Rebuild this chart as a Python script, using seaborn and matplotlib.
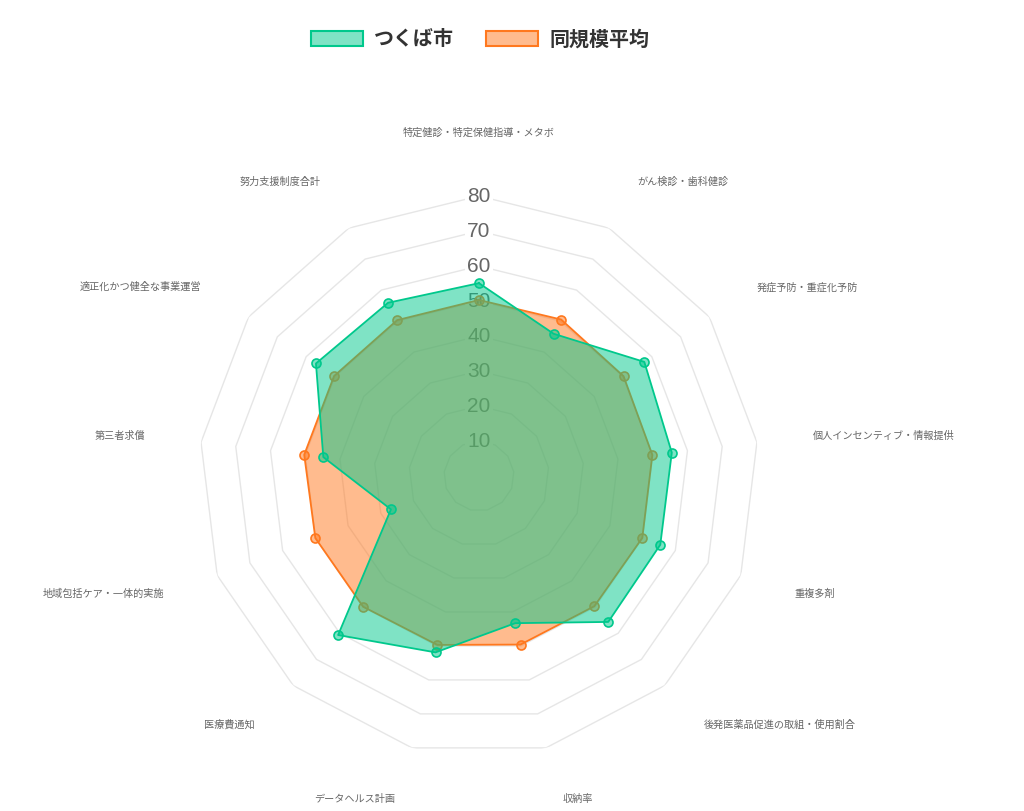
import numpy as np
import seaborn as sns
import matplotlib.pyplot as plt
from matplotlib.colors import to_rgba
from matplotlib.patches import Patch

# axis labels, clockwise from the top
categories = [
    "特定健診・特定保健指導・メタボ",
    "がん検診・歯科健診",
    "発症予防・重症化予防",
    "個人インセンティブ・情報提供",
    "重複多剤",
    "後発医薬品促進の取組・使用割合",
    "収納率",
    "データヘルス計画",
    "医療費通知",
    "地域包括ケア・一体的実施",
    "第三者求償",
    "適正化かつ健全な事業運営",
    "努力支援制度合計",
]
# values
tsukuba = [55.1, 45.9, 57.4, 55.5, 55.4, 55.7, 43.3, 51.9, 60.7, 26.9, 44.8, 56.6, 55.9]
average = [50.3, 50.5, 50.2, 49.9, 49.9, 49.7, 49.6, 49.7, 49.9, 50.0, 50.3, 50.3, 50.3]
ticks = [10, 20, 30, 40, 50, 60, 70, 80]

sns.set_theme(style="white")
plt.rcParams['font.family'] = ['Noto Sans CJK JP', 'DejaVu Sans']

green = "#00c88c"
orange = "#ff781e"

n = len(categories)
angles = np.linspace(0, 2 * np.pi, n, endpoint=False)
theta = np.append(angles, angles[0])

fig = plt.figure(figsize=(10.24, 8.11), dpi=100)
ax = fig.add_axes([0.1943, 0.0678, 0.5469, 0.6905], projection='polar')
ax.set_theta_zero_location('N')
ax.set_theta_direction(-1)
ax.set_ylim(0, 80)
ax.set_axis_off()

# polygon grid and tick labels (under the data)
for v in ticks:
    ax.plot(theta, [v] * (n + 1), color='#e6e6e6', lw=1, zorder=1)
    ax.text(0, v, str(v), ha='center', va='center', fontsize=15,
            family=['Liberation Sans', 'DejaVu Sans'],
            color='#666666', zorder=2,
            bbox=dict(facecolor='white', edgecolor='none', pad=1.5))

# datasets: average below, tsukuba on top
series = [(average, orange, 3), (tsukuba, green, 4)]
for vals, col, z in series:
    closed = list(vals) + [vals[0]]
    ax.fill(theta, closed, color=col, alpha=0.5, lw=0, zorder=z)
    sns.lineplot(x=theta, y=closed, ax=ax, color=col, lw=1.3, sort=False,
                 estimator=None, zorder=z + 0.1)
    sns.scatterplot(x=angles, y=vals, ax=ax, s=42, color=to_rgba(col, 0.5),
                    edgecolor=col, linewidth=1.2, zorder=z + 0.2)
ax.set_ylim(0, 80)

# point labels around the chart
for ang, lab in zip(angles, categories):
    deg = np.degrees(ang)
    r = 95
    if deg < 1:
        ha, dx, va = 'center', 0, 'bottom'
        r = 96.5
    elif deg < 180:
        ha, dx, va = 'left', 3, 'center'
    else:
        ha, dx, va = 'right', -3, 'center'
    ax.annotate(lab, xy=(ang, r), xytext=(dx, 0), textcoords='offset points',
                ha=ha, va=va, fontsize=7.3, color='#666666',
                annotation_clip=False)

handles = [
    Patch(facecolor=to_rgba(green, 0.5), edgecolor=green, lw=1.5, label="つくば市"),
    Patch(facecolor=to_rgba(orange, 0.5), edgecolor=orange, lw=1.5, label="同規模平均"),
]
fig.legend(handles=handles, loc='center', bbox_to_anchor=(0.469, 0.952), ncol=2,
           frameon=False, prop={'size': 14.4, 'weight': 'bold'},
           labelcolor='#333333', handlelength=2.6, handleheight=0.72,
           handletextpad=0.57, columnspacing=1.6)

fig.savefig('out.png', dpi=100)
